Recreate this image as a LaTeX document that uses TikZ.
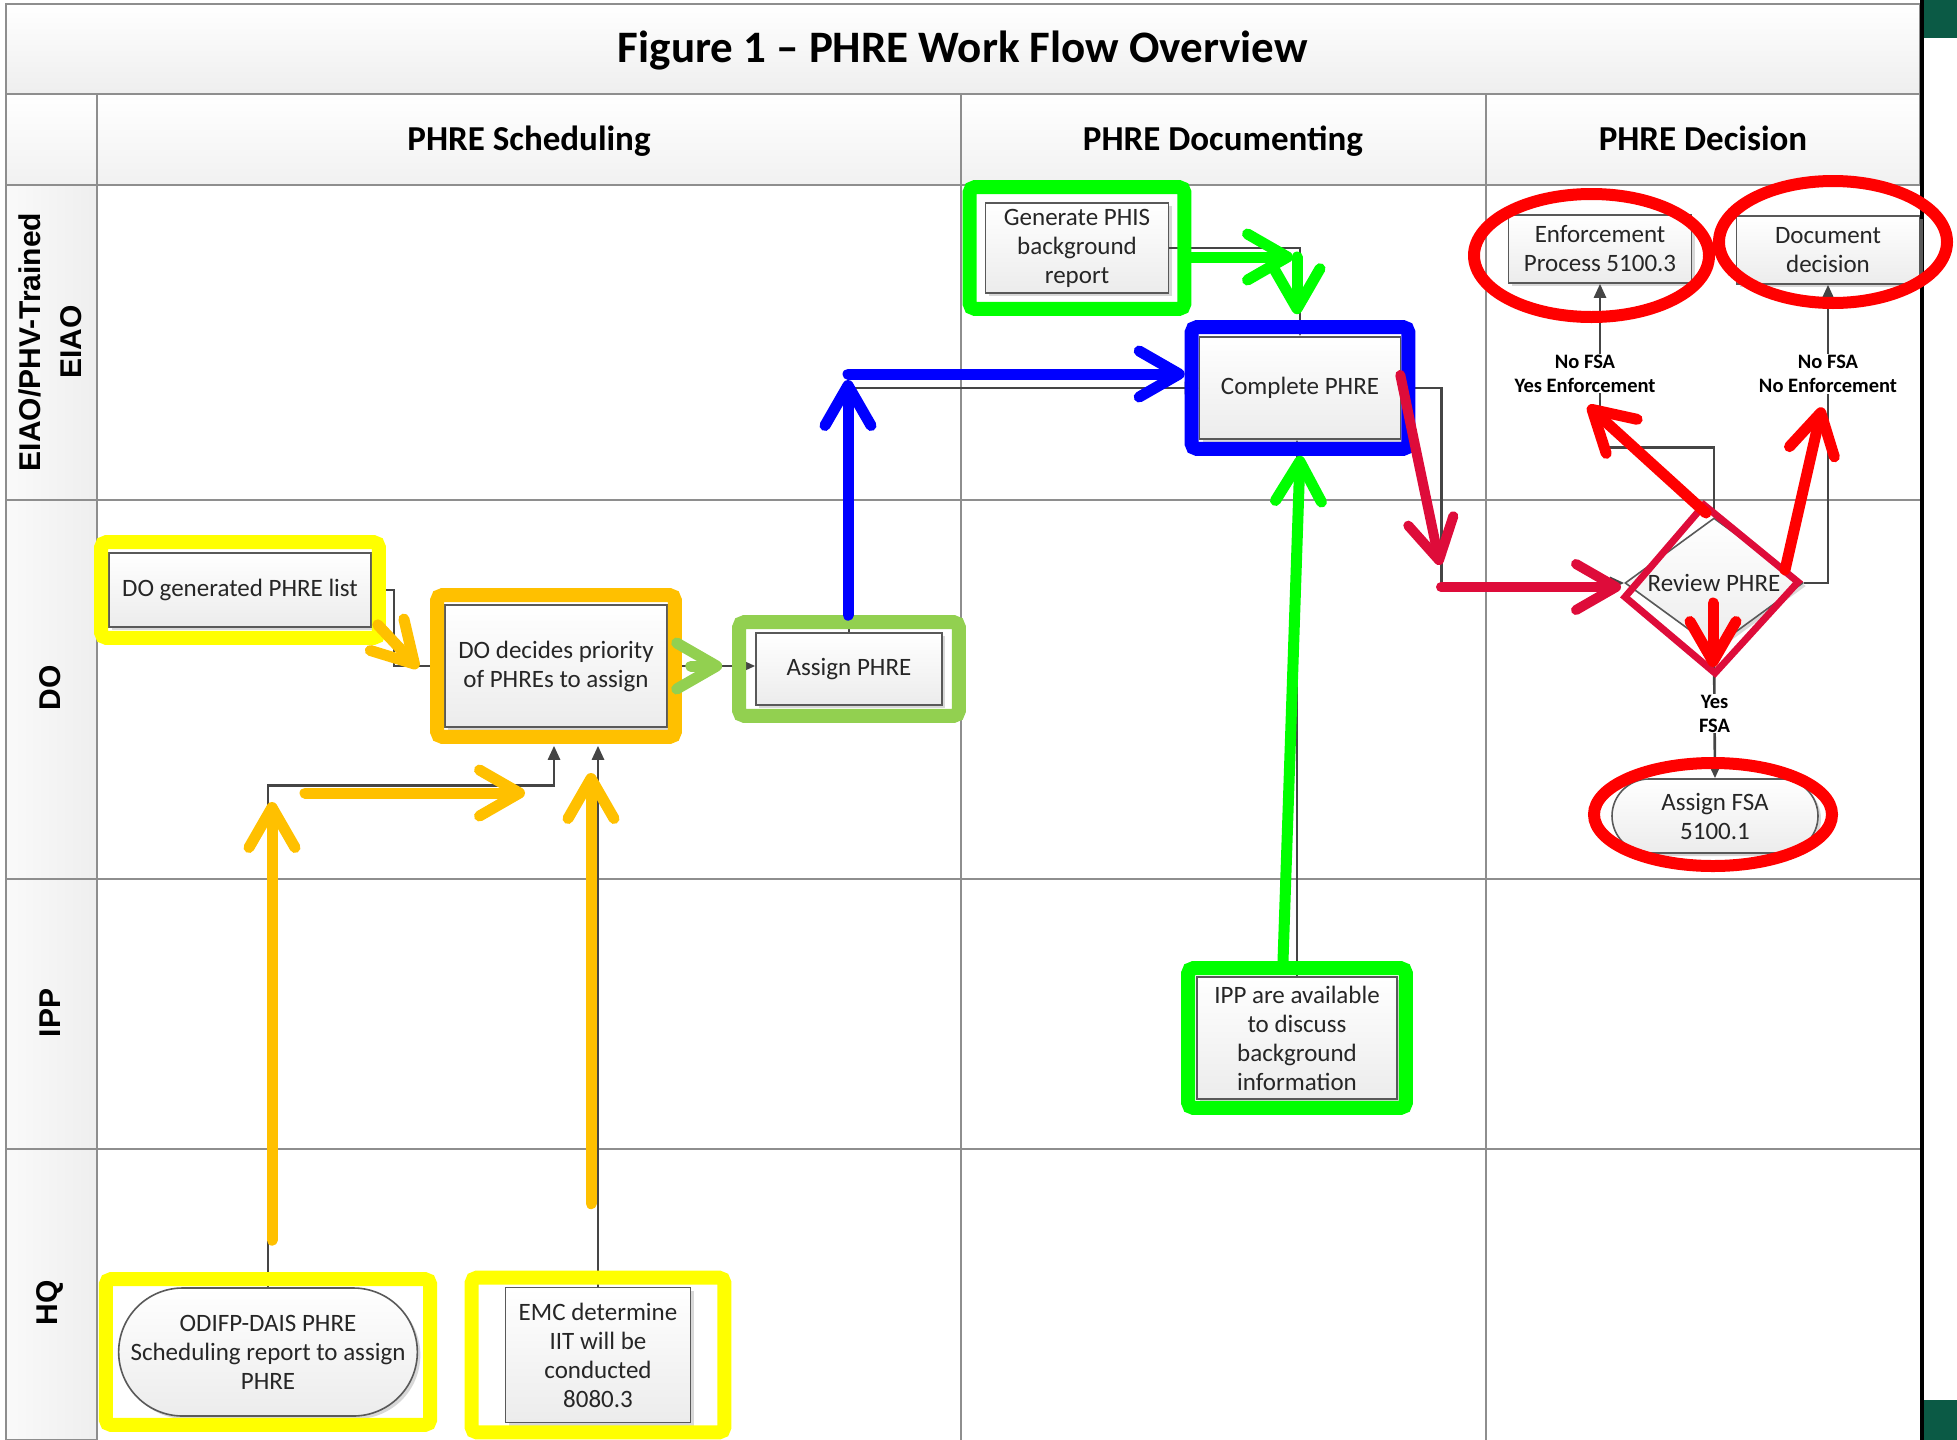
\documentclass[tikz,border=0pt]{standalone}
\usepackage{fontspec}
\setmainfont{Carlito}
\newfontfamily\lanefont{Liberation Sans}
\usetikzlibrary{arrows.meta,shapes.geometric,shapes.misc,fit,shadows}

\definecolor{gridgray}{HTML}{8E8E8E}
\definecolor{linkgray}{HTML}{454545}
\definecolor{hlyellow}{HTML}{FFFF00}
\definecolor{hlorange}{HTML}{FFC000}
\definecolor{hllime}{HTML}{92D050}
\definecolor{hlgreen}{HTML}{00FF00}
\definecolor{hlblue}{HTML}{0000FF}
\definecolor{hlred}{HTML}{FF0000}
\definecolor{hlcrimson}{HTML}{DE0C3A}
\definecolor{pagegreen}{HTML}{0B5A45}

\tikzset{
        gridline/.style={draw=gridgray, line width=2pt},
        proc/.style={draw=gray!70!black, line width=1.6pt, top color=white, bottom color=gray!15,
                drop shadow={shadow xshift=3pt, shadow yshift=-3pt, fill=gray!60, opacity=0.5},
                inner sep=0pt, align=center, text=black!85, font=\fontsize{25}{29}\selectfont},
        term/.style={proc, rounded rectangle},
        flow/.style={draw=linkgray, line width=2.6pt, -{Triangle[length=14pt,width=12pt]}},
        lbl/.style={fill=white, inner sep=1pt, align=center, font=\bfseries\fontsize{20.5}{24}\selectfont},
        hilite/.style={draw=#1, line width=14pt, rounded corners=5pt, inner sep=0pt},
        ring/.style={draw=#1, line width=12pt},
        hlarrow/.style={draw=#1, line width=11pt, line cap=round, -{Straight Barb[length=40pt,width=46pt,round]}},
        headtext/.style={anchor=base, font=\bfseries\fontsize{35}{40}\selectfont},
        lanetext/.style={rotate=90, align=center, font=\lanefont\bfseries\fontsize{30}{41}\selectfont},
}

\begin{document}
\begin{tikzpicture}[x=1pt, y=-1pt]
        \useasboundingbox (0,0) rectangle (1957,1440);

        \draw[gridline, top color=white, bottom color=gray!13] (6,4) rectangle (1920,94);
        \draw[gridline, top color=white, bottom color=gray!11] (6,94) rectangle (1920,185);
        \draw[gridline, left color=gray!4, right color=gray!13] (6,185) rectangle (97,1440);
        \foreach \x in {961, 1486} {
            \draw[gridline] (\x,94) -- (\x,1440);
        }
        \foreach \y in {500, 879, 1149} {
            \draw[gridline] (6,\y) -- (1920,\y);
        }
        \draw[gridline] (97,94) -- (97,185);
        \draw[line width=4pt] (1922,0) -- (1922,1440);
        \fill[pagegreen] (1924,0) rectangle (1957,38);
        \fill[pagegreen] (1924,1400) rectangle (1957,1440);

        \node[anchor=base, font=\bfseries\fontsize{45}{50}\selectfont] (title) at (963,62) {Figure 1 \textendash{} PHRE Work Flow Overview};
        \foreach \name/\x [count=\i] in {PHRE Scheduling/529, PHRE Documenting/1223, PHRE Decision/1703} {
            \node[headtext] (col\i) at (\x,150) {\name};
        }
        \node[lanetext] (lane0) at (50,342) {EIAO/PHV-Trained\\EIAO};
        \foreach \name/\y [count=\i] in {DO/688, IPP/1013, HQ/1303} {
            \node[lanetext] (lane\i) at (50,\y) {\name};
        }

        \node[proc, minimum width=183pt, minimum height=90pt] (gen) at (1077,248) {Generate PHIS\\background\\report};
        \node[proc, minimum width=201pt, minimum height=102pt] (complete) at (1300,388) {Complete PHRE};
        \node[proc, minimum width=183pt, minimum height=68pt] (enforce) at (1600,249) {Enforcement\\Process 5100.3};
        \node[proc, minimum width=183pt, minimum height=68pt] (docdec) at (1828,250) {Document\\decision};
        \node[proc, diamond, aspect=1.5, minimum width=178pt, minimum height=130pt] (review) at (1714,583) {Review PHRE};
        \node[term, minimum width=206pt, minimum height=74pt] (assignfsa) at (1715,816) {Assign FSA\\5100.1};
        \node[proc, minimum width=262pt, minimum height=74pt] (dolist) at (240,590) {DO generated PHRE list};
        \node[proc, minimum width=222pt, minimum height=122pt] (prio) at (556,666) {DO decides priority\\of PHREs to assign};
        \node[proc, minimum width=186pt, minimum height=72pt] (assign) at (849,669) {Assign PHRE};
        \node[proc, minimum width=200pt, minimum height=122pt] (ipp) at (1297,1038) {IPP are available\\to discuss\\background\\information};
        \node[term, minimum width=295pt, minimum height=128pt] (odifp) at (268,1352) {ODIFP-DAIS PHRE\\Scheduling report to assign\\PHRE};
        \node[proc, minimum width=185pt, minimum height=135pt] (emc) at (598,1355) {EMC determine\\IIT will be\\conducted\\8080.3};

        \draw[flow] (dolist.east) -- ++(22,0) |- (prio.west);
        \draw[flow] (odifp.north) -- ++(0,-502) -| ([shift={(-2,18)}]prio.south);
        \draw[flow] (emc.north) -- ([shift={(0,18)}]emc.north |- prio.south);
        \draw[flow] (prio.east) -- (prio.east -| assign.west);
        \draw[flow] (assign.north) |- (complete.west);
        \draw[flow] (gen.east) -| (complete.north);
        \draw[flow] (ipp.north) -- (ipp.north |- complete.south);
        \draw[flow] (complete.east) -- ++(40,0) |- (review.west);
        \draw[flow] (review.north) -- ++(0,-70) -| node[lbl, pos=0.725, xshift=-15pt] (lblenf) {No FSA\\Yes Enforcement} (enforce.south);
        \draw[flow] (review.east) -| node[lbl, pos=0.85] (lbldoc) {No FSA\\No Enforcement} (docdec.south);
        \draw[flow] (review.south) -- node[lbl] (lblfsa) {Yes\\FSA} (assignfsa.north);

        \node[hilite=hlyellow, fit=(dolist), inner xsep=7pt, inner ysep=10pt] (hldolist) {};
        \node[hilite=hlorange, fit=(prio), inner xsep=7pt, inner ysep=9pt] (hlprio) {};
        \node[hilite=hllime, fit=(assign), inner xsep=16pt, inner ysep=10pt] (hlassign) {};
        \node[hilite=hlgreen, fit=(gen), inner xsep=15pt, inner ysep=15pt] (hlgen) {};
        \node[hilite=hlblue, fit=(complete), inner xsep=7pt, inner ysep=9pt] (hlcomplete) {};
        \node[hilite=hlgreen, fit=(ipp), inner xsep=8pt, inner ysep=8pt] (hlipp) {};
        \node[hilite=hlyellow, fit=(odifp), inner xsep=12pt, inner ysep=8pt] (hlodifp) {};
        \node[hilite=hlyellow, fit=(emc), inner xsep=33pt, inner ysep=9pt] (hlemc) {};
        \draw[ring=hlred] ([shift={(-8.5,6.5)}]enforce.center) ellipse [x radius=117.5, y radius=61.5];
        \draw[ring=hlred] ([shift={(5,-8)}]docdec.center) ellipse [x radius=114, y radius=61];
        \draw[ring=hlred] ([shift={(-2,-1.5)}]assignfsa.center) ellipse [x radius=119, y radius=51.5];
        \draw[draw=hlcrimson, line width=7pt, line join=miter]
            ([shift={(-89,14)}]review.center) coordinate (rdl)
            -- ([shift={(-10,-78)}]review.center) coordinate (rdt)
            -- ([shift={(84,-1)}]review.center) coordinate (rdr)
            -- ([shift={(1,90)}]review.center) coordinate (rdb) -- cycle;

        \coordinate (odtop) at (272,802);
        \coordinate (orleft) at (305,793);
        \coordinate (orright) at (525,793);
        \coordinate (emctop) at (591,773);
        \coordinate (bluebend) at (848,374);
        \coordinate (genbend) at (1297,257);
        \coordinate (crbend) at (1441,587);

        \draw[hlarrow=hlorange] ([shift={(-8,-20)}]hldolist.south east) -- ([shift={(-12,2)}]hlprio.west);
        \draw[hlarrow=hlorange] ([shift={(4,-32)}]hlodifp.north) -- (odtop);
        \draw[hlarrow=hlorange] (orleft) -- (orright);
        \draw[hlarrow=hlorange] ([shift={(-7,-67)}]hlemc.north) -- (emctop);
        \draw[hlarrow=hllime] ([xshift=9pt]hlprio.east) -- ([xshift=-10pt]hlprio.east -| hlassign.west);
        \draw[hlarrow=hlblue] (hlassign.north -| bluebend) -- ([shift={(0,6)}]bluebend);
        \draw[hlarrow=hlblue] (bluebend) -- (hlcomplete.west |- bluebend);
        \draw[hlarrow=hlgreen] (hlgen.east |- genbend) -- ([xshift=-4pt]genbend);
        \draw[hlarrow=hlgreen] (genbend) -- ([shift={(0,-6)}]genbend |- hlcomplete.north);
        \draw[hlarrow=hlgreen] ([xshift=-14pt]hlipp.north) -- (hlcomplete.south);
        \draw[hlarrow=hlcrimson, line width=10pt] ([shift={(-15,-13)}]hlcomplete.east) -- ([shift={(-1,-22)}]crbend);
        \draw[hlarrow=hlcrimson, line width=10pt] (crbend) -- ([xshift=-4pt]rdl |- crbend);
        \draw[hlarrow=hlred] ([shift={(2,8)}]rdt) -- ([shift={(3,11)}]lblenf.south);
        \draw[hlarrow=hlred] ([shift={(-13,-12)}]rdr) -- ([shift={(-6,12)}]lbldoc.south);
        \draw[hlarrow=hlred] ([shift={(-2,-70)}]rdb) -- ([shift={(-2,-6)}]rdb);
\end{tikzpicture}
\end{document}
